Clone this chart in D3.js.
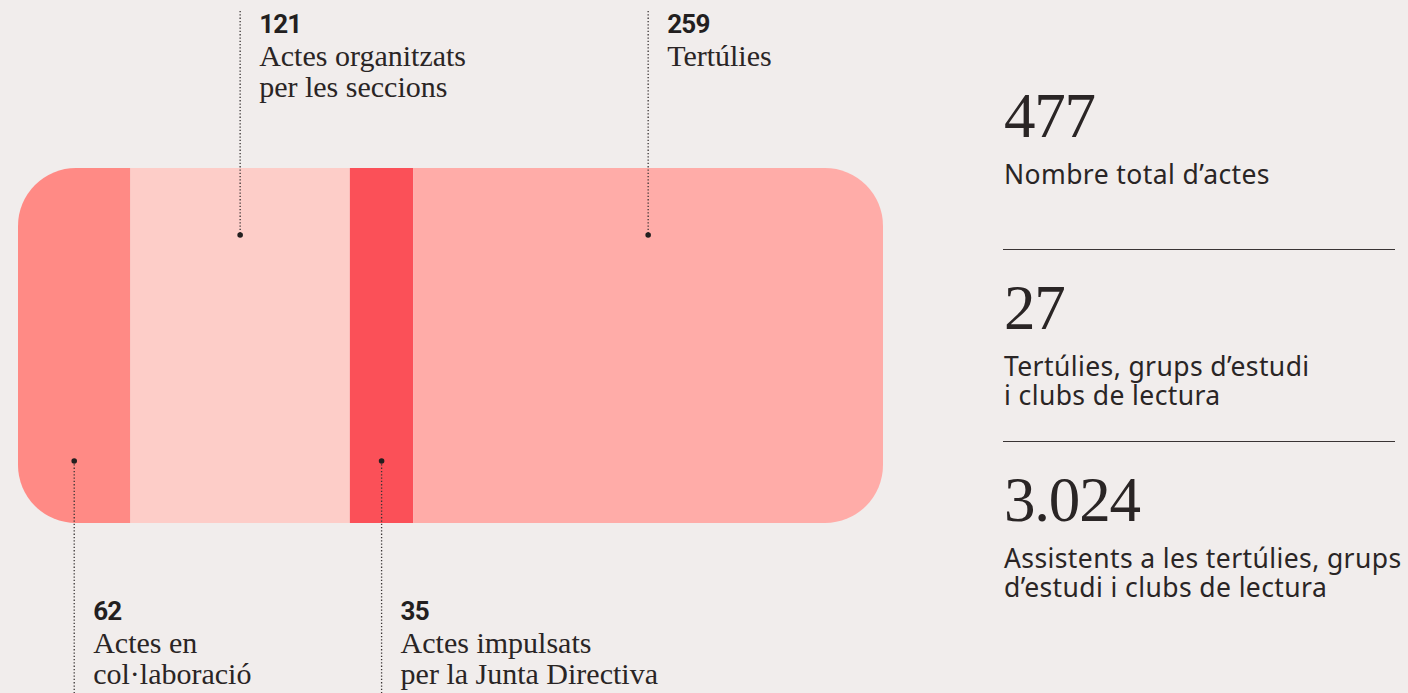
<!DOCTYPE html>
<html>
<head>
  <meta charset="utf-8">
  <style>
    body { margin: 0; background: #f1edec; }
    svg { display: block; }
    .num { font-family: Roboto, "Liberation Sans", sans-serif; font-weight: 700; fill: #231f1f; }
    .serif { font-family: "Liberation Serif", "DejaVu Serif", serif; fill: #2a2525; }
    .sans { font-family: "Noto Sans", Roboto, sans-serif; fill: #2a2525; }
  </style>
</head>
<body>
  <script src="https://d3js.org/d3.v7.min.js"></script>
  <svg id="chart"></svg>
  <script>
    // segments of the bar, left to right
    var categories = ['collab', 'seccions', 'junta', 'tertulies'];
    var values = [62, 121, 35, 259];
    var labelLines = [
      ['Actes en', 'col·laboració'],
      ['Actes organitzats', 'per les seccions'],
      ['Actes impulsats', 'per la Junta Directiva'],
      ['Tertúlies']
    ];
    var labelSide = ['bottom', 'top', 'bottom', 'top'];
    var colors = ['#ff8a85', '#fdcdc8', '#fb5058', '#ffaca8'];

    // key figures on the right
    var statValues = ['477', '27', '3.024'];
    var statLabels = [
      ["Nombre total d’actes"],
      ['Tertúlies, grups d’estudi', 'i clubs de lectura'],
      ['Assistents a les tertúlies, grups', 'd’estudi i clubs de lectura']
    ];

    var width = 1408, height = 693;
    var svg = d3.select('#chart').attr('width', width).attr('height', height);

    var total = d3.sum(values);
    var x = d3.scaleLinear().domain([0, total]).range([18, 883]);
    var barTop = 168, barBottom = 523;

    var cum = d3.cumsum(values);
    var segs = values.map(function(v, i) {
      return { key: categories[i], v: v, x0: cum[i] - v, x1: cum[i], i: i };
    });

    // rounded clip for the whole bar
    svg.append('clipPath').attr('id', 'barClip')
      .append('rect')
      .attr('x', x(0)).attr('y', barTop)
      .attr('width', x(total) - x(0)).attr('height', barBottom - barTop)
      .attr('rx', 58).attr('ry', 58);

    svg.append('g').attr('clip-path', 'url(#barClip)')
      .selectAll('rect')
      .data(segs)
      .enter()
      .append('rect')
      .attr('x', function(d) { return x(d.x0); })
      .attr('y', barTop)
      .attr('width', function(d) { return x(d.x1) - x(d.x0); })
      .attr('height', barBottom - barTop)
      .attr('fill', function(d) { return colors[d.i]; });

    // annotations
    var ann = svg.append('g').selectAll('g')
      .data(segs)
      .enter()
      .append('g');

    ann.append('line')
      .attr('x1', function(d) { return x((d.x0 + d.x1) / 2); })
      .attr('x2', function(d) { return x((d.x0 + d.x1) / 2); })
      .attr('y1', function(d) { return labelSide[d.i] === 'top' ? 11 : 461; })
      .attr('y2', function(d) { return labelSide[d.i] === 'top' ? 235 : 693; })
      .attr('stroke', '#3a3434')
      .attr('stroke-width', 1.3)
      .attr('stroke-dasharray', '1.3,2');

    ann.append('circle')
      .attr('cx', function(d) { return x((d.x0 + d.x1) / 2); })
      .attr('cy', function(d) { return labelSide[d.i] === 'top' ? 235 : 461; })
      .attr('r', 2.8)
      .attr('fill', '#231f1f');

    ann.each(function(d) {
      var g = d3.select(this);
      var tx = x((d.x0 + d.x1) / 2) + 19;
      var by = labelSide[d.i] === 'top' ? 33 : 620;
      g.append('text').attr('class', 'num')
        .attr('x', tx).attr('y', by)
        .attr('font-size', 26)
        .style('letter-spacing', '-0.8px')
        .text(d.v);
      labelLines[d.i].forEach(function(line, j) {
        g.append('text').attr('class', 'serif')
          .attr('x', tx).attr('y', by + 33 + j * 31)
          .attr('font-size', 30)
          .text(line);
      });
    });

    // right column
    var statX = 1004;
    var statBase = [137, 329, 521];
    var stat = svg.append('g').selectAll('g')
      .data(statValues)
      .enter()
      .append('g');

    stat.append('text').attr('class', 'serif')
      .attr('x', statX)
      .attr('y', function(d, i) { return statBase[i]; })
      .attr('font-size', 63)
      .style('letter-spacing', '-1.2px')
      .text(function(d) { return d; });

    stat.each(function(d, i) {
      var g = d3.select(this);
      statLabels[i].forEach(function(line, j) {
        g.append('text').attr('class', 'sans')
          .attr('x', statX)
          .attr('y', statBase[i] + 47 + j * 29)
          .attr('font-size', 26.5)
          .style('letter-spacing', '0.4px')
          .text(line);
      });
    });

    svg.append('g').selectAll('line')
      .data([249.5, 441.5])
      .enter()
      .append('line')
      .attr('x1', 1003).attr('x2', 1395)
      .attr('y1', function(d) { return d; })
      .attr('y2', function(d) { return d; })
      .attr('stroke', '#3a3434')
      .attr('stroke-width', 1);
  </script>
</body>
</html>
